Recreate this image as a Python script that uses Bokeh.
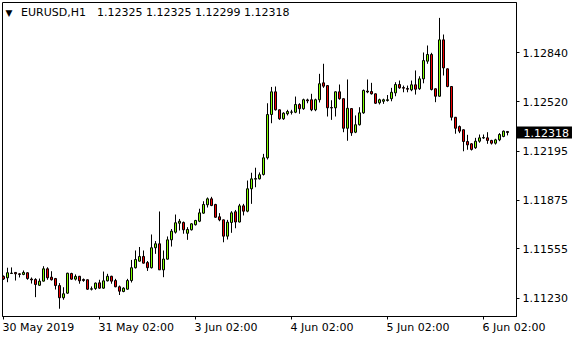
from bokeh.plotting import figure
from bokeh.models import ColumnDataSource, FixedTicker, Range1d, Label, PrintfTickFormatter
from bokeh.core.properties import value
from bokeh.embed import file_html
from bokeh.resources import INLINE

symbol = "EURUSD,H1"

opens = [1.11374, 1.11365, 1.11393, 1.11400, 1.11391, 1.11387, 1.11398, 1.11357, 1.11354, 1.11316,
         1.11343, 1.11424, 1.11369, 1.11360, 1.11314, 1.11234, 1.11264, 1.11393, 1.11356, 1.11375,
         1.11354, 1.11352, 1.11290, 1.11295, 1.11332, 1.11297, 1.11345, 1.11375, 1.11347, 1.11306,
         1.11275, 1.11290, 1.11347, 1.11431, 1.11474, 1.11505, 1.11465, 1.11431, 1.11562, 1.11588,
         1.11417, 1.11487, 1.11614, 1.11664, 1.11723, 1.11728, 1.11657, 1.11680, 1.11713, 1.11736,
         1.11789, 1.11844, 1.11883, 1.11846, 1.11765, 1.11745, 1.11638, 1.11728, 1.11798, 1.11731,
         1.11837, 1.11802, 1.11949, 1.12012, 1.12014, 1.12043, 1.12152, 1.12436, 1.12585, 1.12467,
         1.12408, 1.12441, 1.12451, 1.12451, 1.12502, 1.12474, 1.12532, 1.12533, 1.12467, 1.12533,
         1.12644, 1.12626, 1.12482, 1.12480, 1.12585, 1.12540, 1.12346, 1.12475, 1.12320, 1.12369,
         1.12447, 1.12590, 1.12587, 1.12572, 1.12513, 1.12523, 1.12528, 1.12540, 1.12578, 1.12633,
         1.12613, 1.12607, 1.12598, 1.12631, 1.12605, 1.12670, 1.12786, 1.12830, 1.12605, 1.12556,
         1.12926, 1.12736, 1.12620, 1.12418, 1.12357, 1.12336, 1.12259, 1.12244, 1.12218, 1.12261,
         1.12282, 1.12283, 1.12266, 1.12248, 1.12270, 1.12292, 1.12325]

highs = [1.11380, 1.11431, 1.11433, 1.11402, 1.11395, 1.11413, 1.11400, 1.11367, 1.11362, 1.11360,
         1.11441, 1.11434, 1.11408, 1.11364, 1.11330, 1.11303, 1.11398, 1.11398, 1.11387, 1.11377,
         1.11360, 1.11353, 1.11308, 1.11334, 1.11352, 1.11406, 1.11391, 1.11378, 1.11358, 1.11314,
         1.11303, 1.11358, 1.11482, 1.11544, 1.11567, 1.11544, 1.11475, 1.11649, 1.11606, 1.11800,
         1.11544, 1.11636, 1.11685, 1.11780, 1.11751, 1.11734, 1.11697, 1.11723, 1.11745, 1.11818,
         1.11867, 1.11892, 1.11896, 1.11850, 1.11789, 1.11747, 1.11745, 1.11802, 1.11810, 1.11850,
         1.11850, 1.12003, 1.12054, 1.12087, 1.12056, 1.12178, 1.12510, 1.12617, 1.12620, 1.12469,
         1.12451, 1.12467, 1.12467, 1.12554, 1.12510, 1.12540, 1.12540, 1.12572, 1.12540, 1.12703,
         1.12769, 1.12628, 1.12530, 1.12587, 1.12633, 1.12541, 1.12666, 1.12477, 1.12430, 1.12484,
         1.12600, 1.12666, 1.12644, 1.12574, 1.12540, 1.12540, 1.12564, 1.12611, 1.12648, 1.12659,
         1.12626, 1.12626, 1.12659, 1.12725, 1.12687, 1.12843, 1.12889, 1.12841, 1.12607, 1.13070,
         1.12961, 1.12738, 1.12622, 1.12420, 1.12364, 1.12338, 1.12303, 1.12248, 1.12283, 1.12305,
         1.12305, 1.12320, 1.12270, 1.12277, 1.12314, 1.12331, 1.12325]

lows = [1.11351, 1.11336, 1.11390, 1.11347, 1.11367, 1.11382, 1.11352, 1.11327, 1.11238, 1.11312,
        1.11341, 1.11352, 1.11347, 1.11288, 1.11162, 1.11221, 1.11260, 1.11352, 1.11347, 1.11326,
        1.11339, 1.11286, 1.11282, 1.11286, 1.11293, 1.11293, 1.11341, 1.11326, 1.11303, 1.11252,
        1.11270, 1.11288, 1.11334, 1.11426, 1.11472, 1.11459, 1.11410, 1.11426, 1.11522, 1.11416,
        1.11369, 1.11485, 1.11570, 1.11655, 1.11675, 1.11654, 1.11614, 1.11675, 1.11708, 1.11730,
        1.11785, 1.11826, 1.11835, 1.11760, 1.11736, 1.11598, 1.11616, 1.11660, 1.11690, 1.11728,
        1.11774, 1.11795, 1.11850, 1.11959, 1.12010, 1.12036, 1.12141, 1.12379, 1.12462, 1.12401,
        1.12401, 1.12430, 1.12436, 1.12445, 1.12441, 1.12467, 1.12510, 1.12458, 1.12458, 1.12515,
        1.12611, 1.12423, 1.12401, 1.12423, 1.12533, 1.12320, 1.12264, 1.12296, 1.12314, 1.12364,
        1.12441, 1.12576, 1.12567, 1.12506, 1.12502, 1.12506, 1.12521, 1.12523, 1.12556, 1.12605,
        1.12582, 1.12582, 1.12589, 1.12567, 1.12598, 1.12641, 1.12769, 1.12594, 1.12517, 1.12554,
        1.12692, 1.12615, 1.12397, 1.12310, 1.12314, 1.12195, 1.12205, 1.12200, 1.12211, 1.12251,
        1.12277, 1.12244, 1.12239, 1.12239, 1.12261, 1.12287, 1.12299]

closes = [1.11357, 1.11398, 1.11396, 1.11391, 1.11387, 1.11400, 1.11360, 1.11351, 1.11321, 1.11343,
          1.11424, 1.11365, 1.11352, 1.11314, 1.11234, 1.11260, 1.11395, 1.11356, 1.11374, 1.11345,
          1.11347, 1.11290, 1.11293, 1.11330, 1.11297, 1.11345, 1.11375, 1.11343, 1.11306, 1.11277,
          1.11297, 1.11347, 1.11431, 1.11485, 1.11505, 1.11461, 1.11431, 1.11562, 1.11588, 1.11417,
          1.11488, 1.11614, 1.11671, 1.11726, 1.11736, 1.11680, 1.11682, 1.11719, 1.11741, 1.11791,
          1.11846, 1.11883, 1.11839, 1.11762, 1.11745, 1.11638, 1.11730, 1.11791, 1.11731, 1.11837,
          1.11802, 1.11949, 1.12014, 1.12016, 1.12041, 1.12152, 1.12436, 1.12585, 1.12467, 1.12408,
          1.12445, 1.12456, 1.12453, 1.12502, 1.12474, 1.12533, 1.12526, 1.12467, 1.12533, 1.12638,
          1.12622, 1.12480, 1.12479, 1.12585, 1.12540, 1.12346, 1.12477, 1.12316, 1.12369, 1.12447,
          1.12594, 1.12584, 1.12572, 1.12510, 1.12533, 1.12533, 1.12533, 1.12582, 1.12633, 1.12611,
          1.12609, 1.12602, 1.12631, 1.12602, 1.12670, 1.12790, 1.12830, 1.12600, 1.12556, 1.12926,
          1.12742, 1.12620, 1.12418, 1.12346, 1.12327, 1.12259, 1.12237, 1.12207, 1.12261, 1.12283,
          1.12285, 1.12266, 1.12248, 1.12270, 1.12305, 1.12327, 1.12318]

x_tick_bars = [0, 24, 48, 72, 96, 120]
x_tick_labels = ["30 May 2019", "31 May 02:00", "3 Jun 02:00", "4 Jun 02:00", "5 Jun 02:00", "6 Jun 02:00"]
y_tick_values = [1.11230, 1.11555, 1.11875, 1.12195, 1.12520, 1.12840]

UP = "#7FFF00"
DOWN = "#F00000"
FONT = "DejaVu Sans"
FS = "11px"
XS, XE = -0.25, 128.25
YS, YE = 1.11111, 1.13171

n = len(opens)
idx = list(range(n))
src = ColumnDataSource(dict(
    x=idx, h=highs, l=lows,
    top=[max(o, c) for o, c in zip(opens, closes)],
    bottom=[min(o, c) for o, c in zip(opens, closes)],
    color=[UP if c >= o else DOWN for o, c in zip(opens, closes)],
))

p = figure(width=580, height=340, output_backend="svg", toolbar_location=None,
           x_range=Range1d(XS, XE), y_range=Range1d(YS, YE),
           y_axis_location="right",
           min_border_left=2, min_border_right=64, min_border_top=2, min_border_bottom=24)
p.grid.visible = False
p.outline_line_color = "black"
p.outline_line_width = 1
p.background_fill_color = "white"
p.border_fill_color = "white"

p.segment(x0="x", y0="l", x1="x", y1="h", source=src, line_color="black", line_width=1)
p.vbar(x="x", width=0.5, top="top", bottom="bottom", source=src,
       fill_color="color", line_color="black", line_width=1)

ya = p.yaxis[0]
ya.ticker = FixedTicker(ticks=y_tick_values, minor_ticks=[])
ya.formatter = PrintfTickFormatter(format="%.5f")
ya.major_tick_out = 3
ya.major_tick_in = 0
ya.minor_tick_out = 0
ya.axis_line_color = "black"
ya.major_label_standoff = 3
ya.major_label_text_font = FONT
ya.major_label_text_font_size = FS
ya.major_label_text_color = "black"

xa = p.xaxis[0]
xa.ticker = FixedTicker(ticks=x_tick_bars, minor_ticks=[])
xa.major_label_overrides = {t: "" for t in x_tick_bars}
xa.major_tick_out = 3
xa.major_tick_in = 0
xa.minor_tick_out = 0
xa.axis_line_color = "black"

# date labels, left-aligned at their ticks (overlay level so they are not clipped)
xlab = ColumnDataSource(dict(x=x_tick_bars, y=[YS] * len(x_tick_bars), text=x_tick_labels))
p.text(x="x", y="y", text="text", source=xlab, x_offset=-1, y_offset=11,
       text_font=value(FONT), text_font_size=value(FS), text_color="black",
       text_align="left", text_baseline="middle", level="overlay")

# header
p.add_layout(Label(x=3, y=304, x_units="screen", y_units="screen", text="\u25BC",
                   text_font=FONT, text_font_size="9px", text_color="black",
                   text_align="left", text_baseline="middle"))
p.add_layout(Label(x=18.5, y=304.5, x_units="screen", y_units="screen", text=symbol,
                   text_font=FONT, text_font_size=FS, text_color="black",
                   text_align="left", text_baseline="middle"))
ohlc_text = " ".join("%.5f" % v for v in (opens[-1], highs[-1], lows[-1], closes[-1]))
p.add_layout(Label(x=94.5, y=304.5, x_units="screen", y_units="screen", text=ohlc_text,
                   text_font=FONT, text_font_size=FS, text_color="black",
                   text_align="left", text_baseline="middle"))

# current price box
p.text(x=[XE], y=[closes[-1]], text=["%.5f" % closes[-1]], x_offset=0,
       text_font=value(FONT), text_font_size=value(FS), text_color="white",
       text_align="left", text_baseline="middle",
       background_fill_color="black", padding=dict(left=7, right=3, top=2, bottom=2),
       level="overlay")

open("out.html", "w").write(file_html(p, INLINE))
